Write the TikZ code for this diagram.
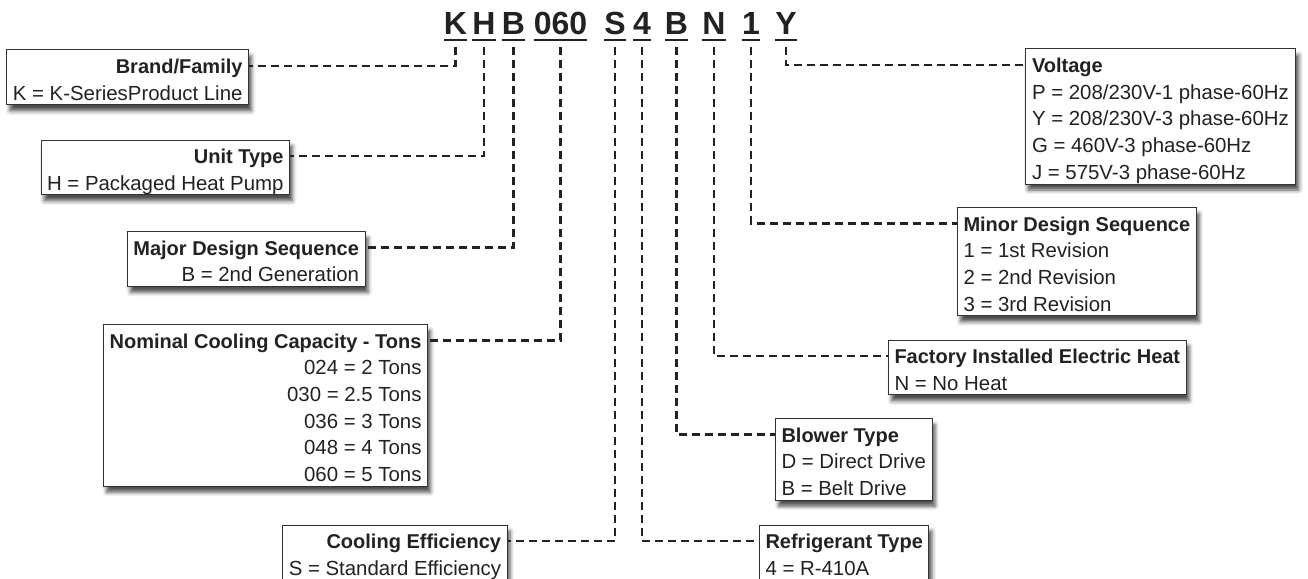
\documentclass[tikz,border=0pt]{standalone}
\usepackage{fontspec}
\setmainfont{Liberation Sans}
\usepackage{tikz}
\usetikzlibrary{shadows, shadows.blur}
\definecolor{ink}{HTML}{222222}
\definecolor{boxline}{HTML}{333333}
% title line of a box, with a strut that keeps the room above it
\newcommand{\hd}[1]{\rule{0pt}{23.5pt}{\bfseries\fontsize{20}{26.7}\selectfont #1}}
\tikzset{
  % boxes holding the meaning of each code letter
  base/.style={draw=boxline, fill=white, line width=1pt, text=ink,
    inner xsep=6pt, inner ysep=0pt, font={\fontsize{20.4}{26.7}\selectfont},
    execute at end node={\rule[-4.7pt]{0pt}{4.7pt}},
    blur shadow={shadow xshift=3pt, shadow yshift=-6pt, shadow blur radius=4pt, shadow opacity=70}},
  lbox/.style={base, align=right, anchor=north east},
  rbox/.style={base, align=left, anchor=north west},
  % the letters of the model number
  code/.style={font={\bfseries\fontsize{32}{32}\selectfont}, text=ink, inner sep=0pt,
    text height=23pt, text depth=0pt, anchor=base},
  uline/.style={draw=ink, line width=2.5pt},
  % dashed leader lines
  conn/.style={draw=ink, line width=2.3pt, dash pattern=on 8pt off 5pt}
}
\begin{document}
\begin{tikzpicture}[x=1pt, y=-1pt]
\useasboundingbox (0,0) rectangle (1308,578);

% -------------------------------------------------
% model number
\node [code] (cK)   at (455.5,35) {K};
\node [code] (cH)   at (484,35)   {H};
\node [code] (cB)   at (513.5,35) {B};
\node [code] (cNum) at (560.5,35) {060};
\node [code] (cS)   at (615,35)   {S};
\node [code] (c4)   at (642,35)   {4};
\node [code] (cBl)  at (676.5,35) {B};
\node [code] (cN)   at (714,35)   {N};
\node [code] (cOne) at (751,35)   {1};
\node [code] (cY)   at (786,35)   {Y};
\foreach \c in {cK, cH, cB, cNum, cS, c4, cBl, cN, cOne, cY}
  \draw [uline] ([yshift=-5pt]\c.south west) -- ([yshift=-5pt]\c.south east);

% -------------------------------------------------
% left column
\node [lbox] (brand) at (249,49.5) {\hd{Brand/Family}\\K = K-SeriesProduct Line};
\node [lbox] (unit) at (290,139.5) {\hd{Unit Type}\\H = Packaged Heat Pump};
\node [lbox] (major) at (365.5,231) {\hd{Major Design Sequence}\\B = 2nd Generation};
\node [lbox] (tons) at (428,324) {\hd{Nominal Cooling Capacity - Tons}\\
    024 = 2 Tons\\030 = 2.5 Tons\\036 = 3 Tons\\048 = 4 Tons\\060 = 5 Tons};
\node [lbox] (eff) at (507.5,524.5) {\hd{Cooling Efficiency}\\S = Standard Efficiency};

% right column
\node [rbox, inner xsep=7pt] (volt) at (1024.5,48.5) {\hd{Voltage}\\
    P = 208/230V-1 phase-60Hz\\Y = 208/230V-3 phase-60Hz\\
    G = 460V-3 phase-60Hz\\J = 575V-3 phase-60Hz};
\node [rbox] (minor) at (957,207) {\hd{Minor Design Sequence}\\
    1 = 1st Revision\\2 = 2nd Revision\\3 = 3rd Revision};
\node [rbox] (heat) at (888,339.5) {\hd{Factory Installed Electric Heat}\\N = No Heat};
\node [rbox] (blower) at (775,418) {\hd{Blower Type}\\D = Direct Drive\\B = Belt Drive};
\node [rbox] (refr) at (759,524.5) {\hd{Refrigerant Type}\\4 = R-410A};

% -------------------------------------------------
% leaders
\draw [conn] ([yshift=-12pt]cK.south)   |- ([yshift=-16.5pt]brand.north east);
\draw [conn] ([yshift=-12pt]cH.south)   |- ([yshift=-16.5pt]unit.north east);
\draw [conn] ([yshift=-12pt]cB.south)   |- ([yshift=-16.5pt]major.north east);
\draw [conn] ([yshift=-12pt]cNum.south) |- ([yshift=-16.5pt]tons.north east);
\draw [conn] ([yshift=-12pt]cS.south)   |- ([yshift=-16.5pt]eff.north east);
\draw [conn] ([yshift=-12pt]c4.south)   |- ([yshift=-16.5pt]refr.north west);
\draw [conn] ([yshift=-12pt]cBl.south)  |- ([yshift=-16.5pt]blower.north west);
\draw [conn] ([yshift=-12pt]cN.south)   |- ([yshift=-16.5pt]heat.north west);
\draw [conn] ([yshift=-12pt]cOne.south) |- ([yshift=-16.5pt]minor.north west);
\draw [conn] ([yshift=-12pt]cY.south)   |- ([yshift=-16.5pt]volt.north west);

\end{tikzpicture}
\end{document}
